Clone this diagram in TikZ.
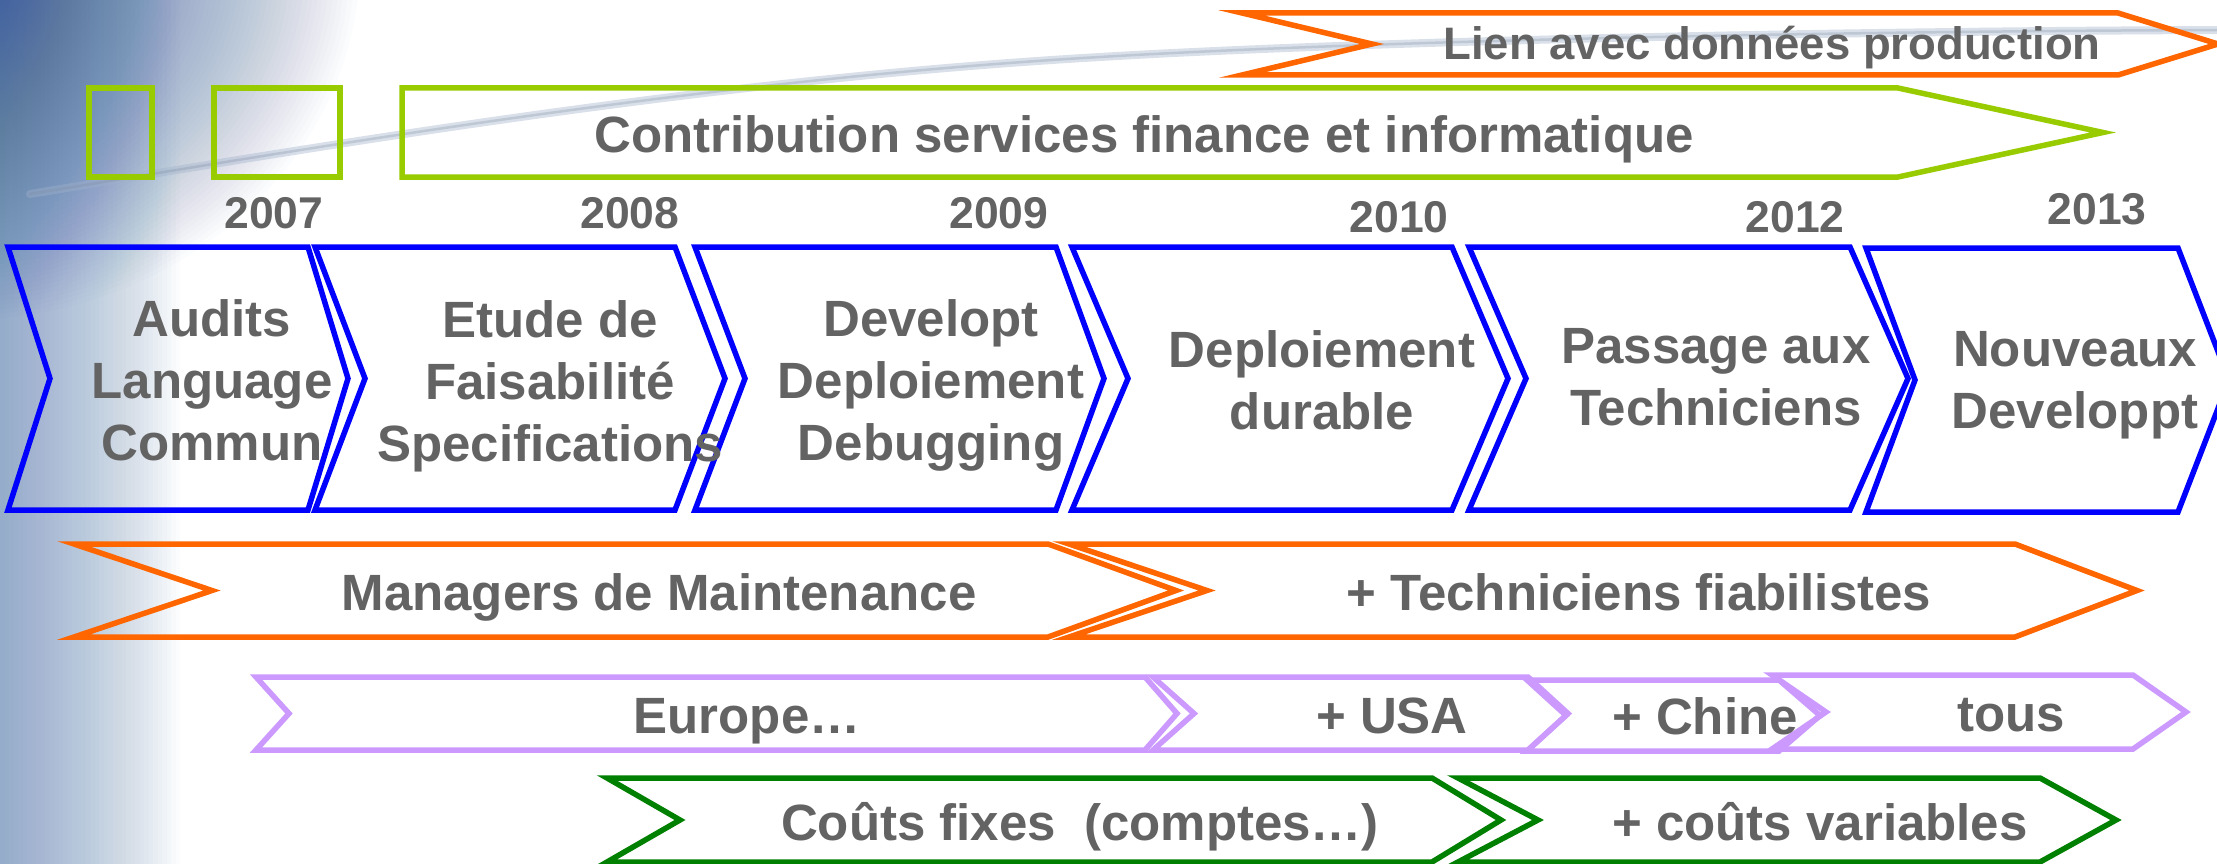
\documentclass[tikz,border=0pt]{standalone}
\usepackage{fontspec}
\setmainfont{Liberation Sans}
\definecolor{txtgray}{RGB}{99,99,99}
\definecolor{cblue}{RGB}{0,0,255}
\definecolor{corange}{RGB}{255,102,0}
\definecolor{clgreen}{RGB}{153,204,0}
\definecolor{cpurple}{RGB}{204,153,255}
\definecolor{cdgreen}{RGB}{0,128,0}
\definecolor{bgA}{RGB}{105,140,188}
\definecolor{bgB}{RGB}{60,100,160}
\definecolor{swooshc}{RGB}{160,178,204}
% color, xL, xR, yTop, yBot, notch depth, tip depth
\newcommand\mychev[7]{\draw[chevline,#1] (#2,#4) -- ({#2+#6},{(#4+#5)/2}) -- (#2,#5) -- (#3,#5) -- ({#3+#7},{(#4+#5)/2}) -- (#3,#4) -- cycle;}
\begin{document}
\begin{tikzpicture}[x=1pt,y=-1pt,
  chevline/.style={line width=5.5pt, line join=miter},
  lbl/.style={font=\bfseries\fontsize{51}{62}\selectfont, text=txtgray, inner sep=0pt, align=center},
  toplbl/.style={lbl, anchor=north},
  baselbl/.style={lbl, anchor=base},
  yearlbl/.style={font=\bfseries\fontsize{44.5}{50}\selectfont, text=txtgray, inner sep=0pt, anchor=base},
]
\useasboundingbox (0,0) rectangle (2217,864);
\clip (0,0) rectangle (2217,864);
% background
\fill[white] (0,0) rectangle (2217,864);
\foreach \i in {1,...,40}
  {\fill[bgA, opacity=0.022] (0,0) rectangle ({4.5*\i},864);}
\foreach \r in {20,25,...,400}
  {\fill[bgB, opacity=0.016] (-40,-40) ellipse ({\r} and {0.9*\r});}
\draw[swooshc, line width=8pt, opacity=0.4, line cap=round]
  (30,194) .. controls (300,150) and (700,80) .. (1100,57)
  .. controls (1300,45) and (1700,32) .. (2217,30);
\draw[swooshc!80!black, line width=2.5pt, opacity=0.3, line cap=round]
  (30,194) .. controls (300,150) and (700,80) .. (1100,57)
  .. controls (1300,45) and (1700,32) .. (2217,30);

% top orange
\mychev{corange}{1242}{2118}{13}{75}{130}{100}
\node[baselbl, font=\bfseries\fontsize{45.5}{54}\selectfont] (lien) at (1772,60) {Lien avec données production};

% light green
\draw[chevline, clgreen] (89,88) rectangle (152,177);
\draw[chevline, clgreen] (214,88) rectangle (340,177);
\draw[chevline, clgreen] (402,88) -- (1898,88) -- (2103,132.5) -- (1898,177) -- (402,177) -- cycle;
\node[baselbl] (contrib) at (1144,153) {Contribution services finance et informatique};

% years
\node[yearlbl] (y2007) at (274,228) {2007};
\node[yearlbl] (y2008) at (630,228) {2008};
\node[yearlbl] (y2009) at (999,228) {2009};
\node[yearlbl] (y2010) at (1399,232) {2010};
\node[yearlbl] (y2012) at (1795,232) {2012};
\node[yearlbl] (y2013) at (2097,224) {2013};

% blue chevrons
\mychev{cblue}{8}{308}{247}{510}{42}{40}
\mychev{cblue}{315}{675}{247}{510}{50}{50}
\mychev{cblue}{695}{1056}{247}{510}{50}{48}
\mychev{cblue}{1072}{1452}{247}{510}{56}{56}
\mychev{cblue}{1469}{1850}{247}{510}{57}{58}
\mychev{cblue}{1866}{2178}{248}{512}{49}{51}
\node[toplbl] (audits) at (212,299.5) {Audits\\Language\\Commun};
\node[toplbl] (etude) at (550,300.5) {Etude de\\Faisabilité\\Specifications};
\node[toplbl] (develop) at (931,299) {Developt\\Deploiement\\Debugging};
\node[toplbl] (deploi) at (1322,330.5) {Deploiement\\durable};
\node[toplbl] (passage) at (1716,328.5) {Passage aux\\Techniciens};
\node[toplbl] (nouveaux) at (2075,331.5) {Nouveaux\\Developpt};

% orange row
\mychev{corange}{74}{1048}{544}{637}{138}{128}
\mychev{corange}{1069}{2015}{544}{637}{138}{122}
\node[baselbl] (managers) at (659,610) {Managers de Maintenance};
\node[baselbl] (techfiab) at (1639,610) {+ Techniciens fiabilistes};

% purple row
\mychev{cpurple}{256}{1145}{677}{750}{33}{32}
\mychev{cpurple}{1153}{1528}{677}{750}{41}{40}
\mychev{cpurple}{1527}{1779}{680}{751}{39}{41}
\mychev{cpurple}{1772}{2133}{675}{749}{54}{53}
\node[baselbl] (europe) at (747,733) {Europe…};
\node[baselbl] (usa) at (1392,733) {+ USA};
\node[baselbl] (chine) at (1705,734) {+ Chine};
\node[baselbl] (tous) at (2011,731) {tous};

% dark green row
\mychev{cdgreen}{607}{1432}{778}{862}{73}{69}
\mychev{cdgreen}{1458}{2040}{778}{862}{80}{76}
\node[baselbl] (fixes) at (1080,840) {Coûts fixes~ (comptes…)};
\node[baselbl] (variables) at (1820,840) {+ coûts variables};
\end{tikzpicture}
\end{document}
